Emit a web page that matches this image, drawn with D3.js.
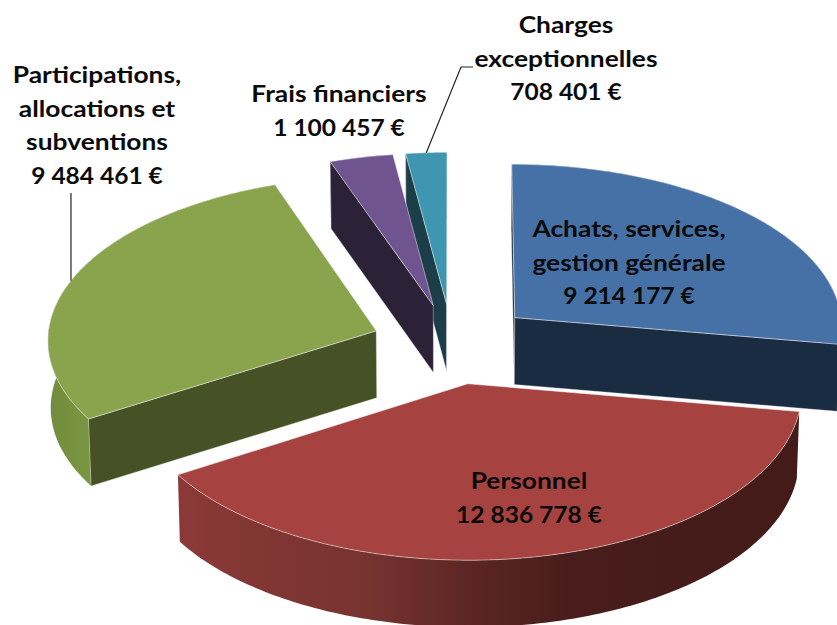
<!DOCTYPE html>
<html><head><meta charset="utf-8">
<script src="https://cdn.jsdelivr.net/npm/d3@7/dist/d3.min.js"></script>
<style>html,body{margin:0;padding:0;background:#fff}svg{display:block}text{font-family:Lato,"Open Sans",sans-serif;font-weight:700;fill:#0b0b0b}</style>
</head><body><div id="chart"></div>
<script>
const categories = ["Achats, services, gestion générale","Personnel","Participations, allocations et subventions","Frais financiers","Charges exceptionnelles"];
const values = [9214177,12836778,9484461,1100457,708401];
const valueLabels = ["9 214 177 €","12 836 778 €","9 484 461 €","1 100 457 €","708 401 €"];
const topColors = ["#4571a7","#a64341","#8aa44d","#70548f","#3f96b0"];
const faceColors = ["#1a2c42","#431b19","#465125","#2c2238","#1b3e48"];
const wallColors = ["#355780","#431b19","#76923f","#57406f","#307488"];
const labelLines = [
  ["Achats, services,","gestion générale","9 214 177 €"],
  ["Personnel","12 836 778 €"],
  ["Participations,","allocations et","subventions","9 484 461 €"],
  ["Frais financiers","1 100 457 €"],
  ["Charges","exceptionnelles","708 401 €"]
];
const W=837,H=625;
const explodes=[.252,.245,.245,.245,.245];
const persp=.05,depth=67,shrink=.993,cx=452,cy=344,A=329,B=163.5,fs=23.2,lh=33.6,stretch=1.137,numStretch=1.057;
const labelPos=[[629,229],[529,481],[97,75],[339,94],[566,25]];
const xS=d3.scaleLinear().domain([-1,1]).range([cx-A,cx+A]);
const yS=d3.scaleLinear().domain([-1,1]).range([cy+B,cy-B]);
const svg=d3.select("#chart").append("svg").attr("width",W).attr("height",H).attr("viewBox",`0 0 ${W} ${H}`);
const defs=svg.append("defs");
const grad=defs.append("linearGradient").attr("id","redWall").attr("gradientUnits","userSpaceOnUse").attr("x1",180).attr("x2",800).attr("y1",0).attr("y2",0);
[[0,"#8a3937"],[.306,"#763330"],[.468,"#5c2624"],[.63,"#481d1b"],[1,"#431b19"]].forEach(s=>grad.append("stop").attr("offset",s[0]).attr("stop-color",s[1]));
const grad2=defs.append("linearGradient").attr("id","greenWall").attr("gradientUnits","userSpaceOnUse").attr("x1",47).attr("x2",92).attr("y1",0).attr("y2",0);
[[0,"#718c3d"],[1,"#7a9742"]].forEach(s=>grad2.append("stop").attr("offset",s[0]).attr("stop-color",s[1]));

const arcs=d3.pie().sort(null).value(d=>d)(values);
const line=d3.line();
function project(a,r,e,mid,low){
  const X=r*Math.sin(a)+e*Math.sin(mid), Y=r*Math.cos(a)+e*Math.cos(mid), w=1+persp*Y;
  let x=xS(X/w), y=yS(Y/w);
  if(low){x=cx+(x-cx)*shrink;y+=depth;}
  return [x,y];
}
const g=svg.append("g");
const edge="rgba(235,235,235,.75)";
const order=[4,3,2,0,1];
order.forEach(i=>{
  const d=arcs[i],mid=(d.startAngle+d.endAngle)/2,e=explodes[i];
  const n=Math.max(8,Math.round((d.endAngle-d.startAngle)*60));
  const angs=d3.range(n+1).map(k=>d.startAngle+(d.endAngle-d.startAngle)*k/n);
  const P=(a,r,low)=>project(a,r,e,mid,low);
  const wall=[...angs.map(a=>P(a,1,false)),...angs.slice().reverse().map(a=>P(a,1,true))];
  const fill=i===1?"url(#redWall)":i===2?"url(#greenWall)":wallColors[i];
  g.append("path").attr("d",line(wall)+"Z").attr("fill",fill);
  // a cut face is visible only if its outward normal points down the screen
  [[d.startAngle,-1],[d.endAngle,1]].forEach(([a,sign])=>{
    const vx=P(a,1,false)[0]-P(a,0,false)[0];
    if(sign*vx<=0) return;
    const f=[P(a,0,false),P(a,1,false),P(a,1,true),P(a,0,true)];
    g.append("path").attr("d",line(f)+"Z").attr("fill",faceColors[i]).attr("stroke",edge).attr("stroke-width",.5);
  });
  const top=[P(0,0,false),...angs.map(a=>P(a,1,false))];
  g.append("path").attr("d",line(top)+"Z").attr("fill",topColors[i]).attr("stroke",edge).attr("stroke-width",.7).attr("stroke-linejoin","round");
});
// leader lines
const leader=svg.append("g").attr("fill","none").attr("stroke","#222").attr("stroke-width",1.2);
{const d=arcs[2],mid=(d.startAngle+d.endAngle)/2,a=d.startAngle+(d.endAngle-d.startAngle)*.49;
 const p=project(a,1,explodes[2],mid,false);
 leader.append("path").attr("d",line([[p[0],193],p]));}
{const d=arcs[4],mid=(d.startAngle+d.endAngle)/2,a=d.startAngle+(d.endAngle-d.startAngle)*.5;
 const p=project(a,1,explodes[4],mid,false);
 leader.append("path").attr("d",line([[473,67],[461,67],p]));}
// labels
labelLines.forEach((lines,i)=>{
  lines.forEach((s,k)=>{
    const sx=/\d/.test(s)?numStretch:stretch;
    svg.append("text").attr("text-anchor","middle").attr("font-size",fs)
      .attr("transform",`translate(${labelPos[i][0]},${labelPos[i][1]+k*lh}) scale(${sx},1)`)
      .attr("dy","0.35em").text(s);
  });
});
</script></body></html>
